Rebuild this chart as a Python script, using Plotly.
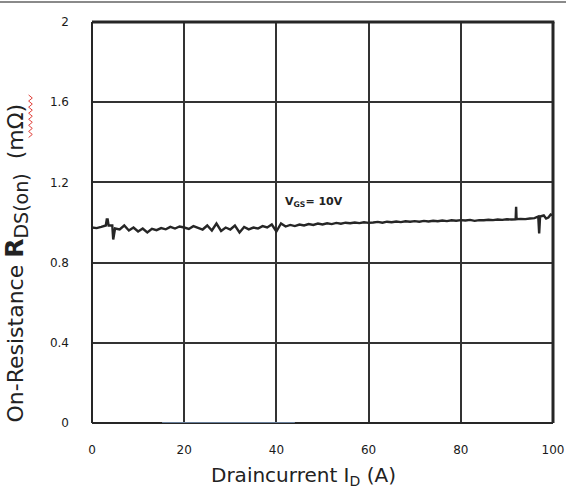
import plotly.graph_objects as go

# Drain current (A) and measured on-resistance (mOhm) at VGS = 10 V
drain_current = [
    0, 1, 2, 3, 3.2, 3.4, 3.6, 4.4, 4.6, 4.8, 5, 6, 7, 8, 9, 10, 11, 12, 13, 14,
    15, 16, 17, 18, 19, 20, 21, 22, 23, 24, 25, 26, 27, 28, 29, 30, 31, 32, 33,
    34, 35, 36, 37, 38, 39, 40, 41, 42, 43, 44, 45, 46, 47, 48, 49, 50, 51, 52,
    53, 54, 55, 56, 57, 58, 59, 60, 61, 62, 63, 64, 65, 66, 67, 68, 69, 70, 71,
    72, 73, 74, 75, 76, 77, 78, 79, 80, 81, 82, 83, 84, 85, 86, 87, 88, 89, 90,
    91, 91.9, 92.0, 92.1, 93, 94, 95, 96, 96.8, 97.0, 97.2, 98, 98.5, 99, 99.5, 100,
]
on_resistance = [
    0.975, 0.972, 0.978, 0.985, 1.015, 1.015, 0.985, 0.985, 0.915, 0.96, 0.97,
    0.965, 0.985, 0.960, 0.975, 0.955, 0.970, 0.950, 0.968, 0.962,
    0.972, 0.966, 0.978, 0.970, 0.980, 0.975, 0.968, 0.982, 0.972, 0.965,
    0.985, 0.960, 0.995, 0.958, 0.975, 0.965, 0.985, 0.950, 0.978, 0.966,
    0.975, 0.970, 0.982, 0.975, 0.990, 0.955, 0.995, 0.980, 0.988, 0.982,
    0.990, 0.985, 0.992, 0.988, 0.995, 0.990, 0.996, 0.992, 0.998, 0.994,
    0.999, 0.996, 1.000, 0.997, 1.001, 0.998, 1.000, 1.003, 0.999, 1.004,
    1.001, 1.005, 1.002, 1.006, 1.004, 1.007, 1.004, 1.008, 1.005, 1.009,
    1.006, 1.010, 1.007, 1.011, 1.009, 1.012, 1.010, 1.013, 1.008, 1.012,
    1.011, 1.014, 1.012, 1.015, 1.013, 1.016, 1.015, 1.016, 1.078, 1.016,
    1.018, 1.017, 1.020, 1.022, 1.030, 0.945, 1.030, 1.035, 1.020, 1.025,
    1.040, 1.035,
]

x_ticks = [0, 20, 40, 60, 80, 100]
x_tick_text = ["0", "20", "40", "60", "80", "100"]
y_ticks = [0, 0.4, 0.8, 1.2, 1.6, 2]
y_tick_text = ["0", "0.4", "0.8", "1.2", "1.6", "2"]

fig = go.Figure()
fig.add_trace(go.Scatter(
    x=drain_current, y=on_resistance, mode="lines",
    line=dict(color="#262626", width=2.4),
    hoverinfo="skip", showlegend=False,
))

tick_font = dict(family="DejaVu Sans", size=12, color="#1a1a1a")

fig.update_layout(
    width=566, height=490,
    margin=dict(l=92, r=13, t=22, b=67, autoexpand=False),
    paper_bgcolor="white", plot_bgcolor="white",
    xaxis=dict(
        range=[0, 100], tickvals=x_ticks, ticktext=x_tick_text,
        showgrid=True, gridcolor="#333", gridwidth=1.5, automargin=False,
        zeroline=False, showline=False, ticks="", ticklabelstandoff=18,
        tickfont=tick_font, fixedrange=True,
    ),
    yaxis=dict(
        range=[0, 2], tickvals=y_ticks, ticktext=y_tick_text,
        showgrid=True, gridcolor="#333", gridwidth=1.5, automargin=False,
        zeroline=False, showline=False, ticks="", ticklabelstandoff=22,
        tickfont=tick_font, fixedrange=True,
    ),
)

# Frame around the plotting area: heavier on top and right
border = "#262626"
fig.add_shape(type="line", xref="paper", yref="paper", x0=0, x1=0, y0=0, y1=1,
              line=dict(color=border, width=2), layer="above")
fig.add_shape(type="line", xref="paper", yref="paper", x0=0, x1=1, y0=0, y1=0,
              line=dict(color=border, width=2), layer="above")
fig.add_shape(type="line", xref="paper", yref="paper", x0=0, x1=1.003, y0=1, y1=1,
              line=dict(color=border, width=3), layer="above")
fig.add_shape(type="line", xref="paper", yref="paper", x0=1, x1=1, y0=0, y1=1,
              line=dict(color=border, width=3), layer="above")
# Blue segment along the baseline
fig.add_shape(type="line", xref="x", yref="y", x0=15.2, x1=44, y0=0, y1=0,
              line=dict(color="#7f9cc0", width=1.5), layer="above")
# Rule across the top of the page
fig.add_shape(type="line", xref="paper", yref="paper", x0=-0.2, x1=1.03,
              y0=1.05, y1=1.05, line=dict(color="#8a8a8a", width=2))

fig.add_annotation(
    text="Draincurrent I<sub>D</sub> (A)", xref="paper", yref="paper",
    x=0.458, y=-0.132, xanchor="center", yanchor="middle",
    showarrow=False, font=dict(family="DejaVu Sans", size=20, color="#222"),
)
fig.add_annotation(
    text=("On-Resistance <b><span style='font-size:25px'>R</span></b>"
          "<sub><span style='font-size:19px'>DS(on)</span></sub>  (mΩ)"),
    xref="paper", yref="paper",
    x=-0.165, y=0.40, xanchor="center", yanchor="middle", textangle=-90,
    showarrow=False, font=dict(family="DejaVu Sans", size=22, color="#222"),
)

# Red wavy underline beneath the unit in the vertical title
wave_x0, wave_x1 = -0.1375, -0.1295
wave_y_top, wave_y_bottom = 0.818, 0.712
n_seg = 14
pts = []
for i in range(n_seg + 1):
    yy = wave_y_top - (wave_y_top - wave_y_bottom) * i / n_seg
    xx = wave_x0 if i % 2 == 0 else wave_x1
    pts.append(f"{xx:.4f},{yy:.4f}")
fig.add_shape(type="path", xref="paper", yref="paper",
              path="M " + " L ".join(pts),
              line=dict(color="#e0403a", width=1))

fig.add_annotation(
    text="<b>V<sub>GS</sub>= 10V</b>", xref="x", yref="y",
    x=48.2, y=1.1, xanchor="center", yanchor="middle",
    showarrow=False, font=dict(family="DejaVu Sans", size=11, color="#222"),
)

fig.write_html("out.html")
